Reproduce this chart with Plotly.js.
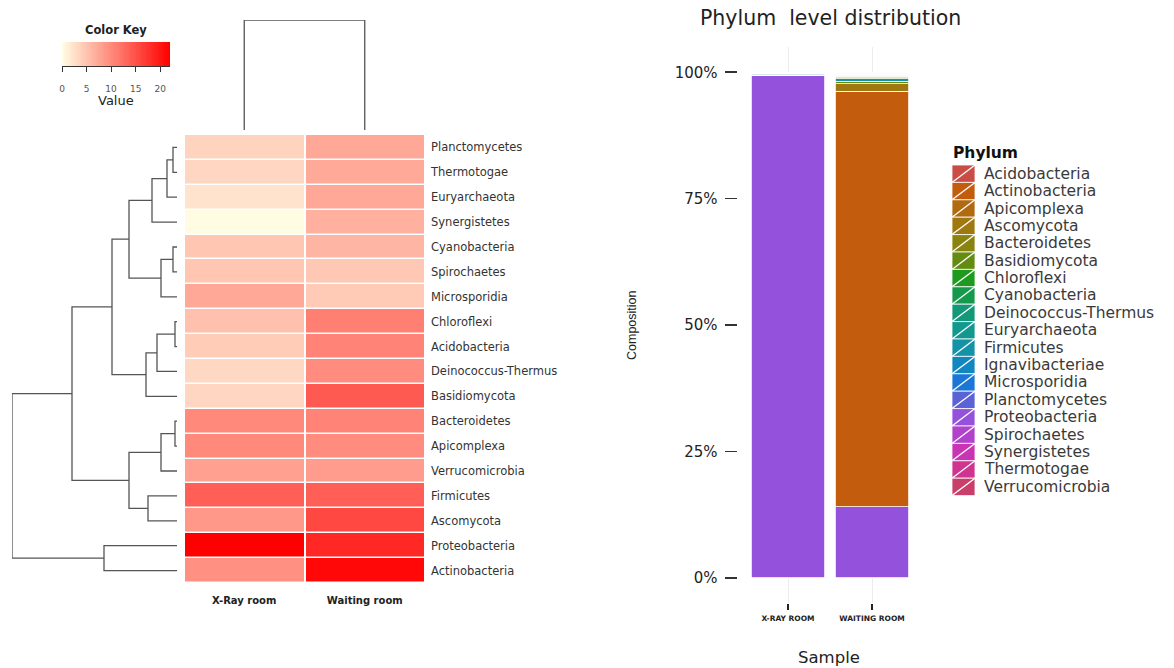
<!DOCTYPE html>
<html>
<head>
<meta charset="utf-8">
<script src="https://cdn.plot.ly/plotly-3.0.1.min.js"></script>
<style>html,body{margin:0;padding:0;background:#fff;}#chart{width:1174px;height:668px;}</style>
</head>
<body>
<div id="chart"></div>
<script>
// ---------------- DATA ----------------
// Heatmap rows (display order, top to bottom)
const heatRows = ['Planctomycetes','Thermotogae','Euryarchaeota','Synergistetes','Cyanobacteria','Spirochaetes','Microsporidia','Chloroflexi','Acidobacteria','Deinococcus-Thermus','Basidiomycota','Bacteroidetes','Apicomplexa','Verrucomicrobia','Firmicutes','Ascomycota','Proteobacteria','Actinobacteria'];
const heatCols = ['X-Ray room','Waiting room'];
const xrayValues    = [3.6, 3.4, 2.3, 0.1, 4.8, 4.8, 7.4, 5.3, 4.3, 3.2, 3.4, 10.0, 10.0, 8.1, 13.7, 8.8, 22.0, 9.5];
const waitingValues = [7.4, 7.2, 7.4, 6.7, 6.3, 4.6, 4.4, 11.0, 10.5, 9.8, 14.2, 10.5, 9.8, 8.4, 13.7, 15.7, 18.5, 21.3];

// Row dendrogram (hclust style: negative = leaf index+1 in display order, positive = merge number)
const rowMergeA = [-1, 1, 2, -5, 4, 3, -8, 7, 8, 6, -12, 11, -15, 12, 10, -17, 15];
const rowMergeB = [-2, -3, -4, -6, -7, 5, -9, -10, -11, 9, -13, -14, -16, 13, 14, -18, 16];
const rowMergeH = [4, 10, 25, 4, 16, 48, 2, 20, 31, 65, 2, 16, 29, 48, 105, 73, 165];
// Column dendrogram
const colMergeH = [1];

// Colour key
const keyTicks = [0, 5, 10, 15, 20];
const keyMax = 22;

// Stacked bar chart
const samples = ['X-RAY ROOM', 'WAITING ROOM'];
const phyla = ['Acidobacteria','Actinobacteria','Apicomplexa','Ascomycota','Bacteroidetes','Basidiomycota','Chloroflexi','Cyanobacteria','Deinococcus-Thermus','Euryarchaeota','Firmicutes','Ignavibacteriae','Microsporidia','Planctomycetes','Proteobacteria','Spirochaetes','Synergistetes','Thermotogae','Verrucomicrobia'];
const phylaColors = ['#C94C45','#C45C0E','#B26A10','#9F7810','#8A8310','#648C10','#1E9A1E','#159A4C','#13987A','#12988F','#1492A8','#1286BE','#1A77D6','#5A62D6','#9452DC','#B042CC','#C834B4','#CE3490','#C8406A'];
const xrayPct    = [0.02, 0.05, 0.05, 0.05, 0.05, 0.01, 0.01, 0.01, 0.01, 0.0, 0.3, 0.0, 0.01, 0.01, 99.37, 0.01, 0.0, 0.01, 0.03];
const waitingPct = [0.15, 82.2, 0.1, 1.5, 0.2, 0.55, 0.35, 0.2, 0.1, 0.02, 0.45, 0.0, 0.02, 0.03, 14.0, 0.03, 0.02, 0.03, 0.05];
// stacking order, bottom to top
const stackOrder = ['Proteobacteria','Actinobacteria','Ascomycota','Basidiomycota','Firmicutes','Bacteroidetes','Chloroflexi','Acidobacteria','Deinococcus-Thermus','Apicomplexa','Verrucomicrobia','Cyanobacteria','Planctomycetes','Thermotogae','Spirochaetes','Euryarchaeota','Microsporidia','Synergistetes','Ignavibacteriae'];
const pctTicks = [0, 25, 50, 75, 100];

// ---------------- HELPERS ----------------
const W = 1174, H = 668;
const px = x => x / W;
const py = y => 1 - y / H;
const FONT = 'DejaVu Sans';

// heatmap z
const z = heatRows.map((r, i) => [xrayValues[i], waitingValues[i]]);
const rowIdx = heatRows.map((r, i) => i);

// row dendrogram coordinates
const nodePos = [], nodeH = [];
const dx = [], dy = [];
function childInfo(c) {
  if (c < 0) return {pos: -c - 1, h: 0};
  return {pos: nodePos[c - 1], h: nodeH[c - 1]};
}
for (let k = 0; k < rowMergeA.length; k++) {
  const a = childInfo(rowMergeA[k]), b = childInfo(rowMergeB[k]);
  const h = rowMergeH[k];
  dx.push(a.h, h, h, b.h, null);
  dy.push(a.pos, a.pos, b.pos, b.pos, null);
  nodePos.push((a.pos + b.pos) / 2);
  nodeH.push(h);
}

// column dendrogram
const cdx = [0, 0, 1, 1], cdy = [0, colMergeH[0], colMergeH[0], 0];

// colour key gradient samples
const keyX = [];
for (let v = 0; v <= keyMax; v += 0.25) keyX.push(v);

const heatScale = [[0, '#FFFDE4'], [1, '#FF0000']];

const traces = [];
traces.push({
  type: 'heatmap', x: [0, 1], y: rowIdx, z: z, colorscale: heatScale, zmin: 0, zmax: keyMax,
  showscale: false, xgap: 2, ygap: 1.5, xaxis: 'x', yaxis: 'y', hoverinfo: 'skip'
});
traces.push({
  type: 'scatter', mode: 'lines', x: dx, y: dy, xaxis: 'x2', yaxis: 'y2',
  line: {color: '#555', width: 1.3}, hoverinfo: 'skip', showlegend: false
});
traces.push({
  type: 'scatter', mode: 'lines', x: cdx, y: cdy, xaxis: 'x3', yaxis: 'y3',
  line: {color: '#555', width: 1.3}, hoverinfo: 'skip', showlegend: false
});
traces.push({
  type: 'heatmap', x: keyX, y: [0], z: [keyX], colorscale: heatScale, zmin: 0, zmax: keyMax,
  showscale: false, xaxis: 'x4', yaxis: 'y4', hoverinfo: 'skip'
});
stackOrder.forEach(name => {
  const i = phyla.indexOf(name);
  traces.push({
    type: 'bar', name: name, x: [1, 2], y: [xrayPct[i], waitingPct[i]], width: 0.88,
    marker: {color: phylaColors[i], line: {color: '#ffffff', width: 0.8}},
    xaxis: 'x5', yaxis: 'y5', showlegend: false, hoverinfo: 'skip'
  });
});

// legend drawn as shapes + annotations
const shapes = [], annotations = [];
const legTop = 165, legStep = 17.4, legX0 = 952, legX1 = 975;
phyla.forEach((name, i) => {
  const y0 = legTop + legStep * i, y1 = y0 + legStep;
  shapes.push({type: 'rect', xref: 'paper', yref: 'paper', x0: px(legX0), x1: px(legX1), y0: py(y1), y1: py(y0),
    fillcolor: phylaColors[i], line: {color: '#ffffff', width: 0.8}, layer: 'above'});
  shapes.push({type: 'line', xref: 'paper', yref: 'paper', x0: px(legX0), x1: px(legX1), y0: py(y1), y1: py(y0),
    line: {color: '#ffffff', width: 1.3}, layer: 'above'});
  annotations.push({xref: 'paper', yref: 'paper', x: px(982), y: py((y0 + y1) / 2), xanchor: 'left', yanchor: 'middle',
    text: name, showarrow: false, font: {family: FONT, size: 15.5, color: '#3a3a3a'}});
});
annotations.push({xref: 'paper', yref: 'paper', x: px(951), y: py(153), xanchor: 'left', yanchor: 'middle',
  text: '<b>Phylum</b>', showarrow: false, font: {family: FONT, size: 15.5, color: '#111'}});
annotations.push({xref: 'paper', yref: 'paper', x: px(830), y: py(18), xanchor: 'center', yanchor: 'middle',
  text: 'Phylum\u00a0 level distribution', showarrow: false, font: {family: FONT, size: 20.5, color: '#222'}});
annotations.push({xref: 'paper', yref: 'paper', x: px(632), y: py(325), xanchor: 'center', yanchor: 'middle', textangle: -90,
  text: 'Composition', showarrow: false, font: {family: 'Liberation Sans', size: 12.5, color: '#222'}});
annotations.push({xref: 'paper', yref: 'paper', x: px(829), y: py(657), xanchor: 'center', yanchor: 'middle',
  text: 'Sample', showarrow: false, font: {family: FONT, size: 16.5, color: '#222'}});
annotations.push({xref: 'paper', yref: 'paper', x: px(116), y: py(30), xanchor: 'center', yanchor: 'middle',
  text: '<b>Color Key</b>', showarrow: false, font: {family: FONT, size: 11.5, color: '#222'}});
annotations.push({xref: 'paper', yref: 'paper', x: px(116), y: py(101), xanchor: 'center', yanchor: 'middle',
  text: 'Value', showarrow: false, font: {family: FONT, size: 13, color: '#222'}});

const hidden = {visible: false};
const layout = {
  width: W, height: H, margin: {l: 0, r: 0, t: 0, b: 0, pad: 0},
  paper_bgcolor: '#ffffff', plot_bgcolor: 'rgba(0,0,0,0)',
  font: {family: FONT, color: '#333'},
  showlegend: false, barmode: 'stack', hovermode: false,
  xaxis: {domain: [px(184), px(425)], range: [-0.5, 1.5], anchor: 'y', tickvals: [0, 1],
    ticktext: heatCols.map(t => '<b>' + t + '</b>'), ticks: '', showgrid: false, zeroline: false, showline: false,
    tickfont: {family: FONT, size: 10, color: '#222'}, ticklabelstandoff: 10},
  yaxis: {domain: [py(583), py(135)], range: [17.5, -0.5], anchor: 'x', side: 'right', tickvals: rowIdx,
    ticktext: heatRows, ticks: '', showgrid: false, zeroline: false, showline: false,
    tickfont: {family: FONT, size: 11.5, color: '#333'}, ticklabelstandoff: 5},
  xaxis2: Object.assign({domain: [px(12), px(177)], range: [165, 0], anchor: 'y2'}, hidden),
  yaxis2: Object.assign({domain: [py(583), py(135)], range: [17.5, -0.5], anchor: 'x2'}, hidden),
  xaxis3: Object.assign({domain: [px(184), px(425)], range: [-0.5, 1.5], anchor: 'y3'}, hidden),
  yaxis3: Object.assign({domain: [py(130), py(20)], range: [0, 1], anchor: 'x3'}, hidden),
  xaxis4: {domain: [px(62), px(170)], range: [0, keyMax], anchor: 'y4', tickvals: keyTicks, ticks: 'outside',
    ticklen: 5, tickwidth: 1, tickcolor: '#333', showline: true, linecolor: '#333', linewidth: 1.2,
    showgrid: false, zeroline: false, tickfont: {family: FONT, size: 9, color: '#555'}, ticklabelstandoff: 9},
  yaxis4: Object.assign({domain: [py(66), py(42)], range: [-0.5, 0.5], anchor: 'x4'}, hidden),
  xaxis5: {domain: [px(737.6), px(922.4)], range: [0.4, 2.6], anchor: 'y5', tickvals: [1, 2],
    ticktext: samples.map(s => '<b>' + s + '</b>'), ticks: 'outside', ticklen: 6, tickwidth: 2, tickcolor: '#222',
    showgrid: true, gridcolor: '#EDEDED', gridwidth: 1, zeroline: false, showline: false,
    tickfont: {family: FONT, size: 7.5, color: '#222'}, ticklabelstandoff: 2},
  yaxis5: {domain: [py(603), py(47)], range: [-5, 105], anchor: 'x5', tickvals: pctTicks,
    ticktext: pctTicks.map(v => v + '%'), ticks: 'outside', ticklen: 12, tickwidth: 1.6, tickcolor: '#333',
    showgrid: false, zeroline: false, showline: false,
    tickfont: {family: FONT, size: 15, color: '#222'}, ticklabelstandoff: 4},
  shapes: shapes, annotations: annotations
};

Plotly.newPlot('chart', traces, layout, {displayModeBar: false, staticPlot: true});
</script>
</body>
</html>
